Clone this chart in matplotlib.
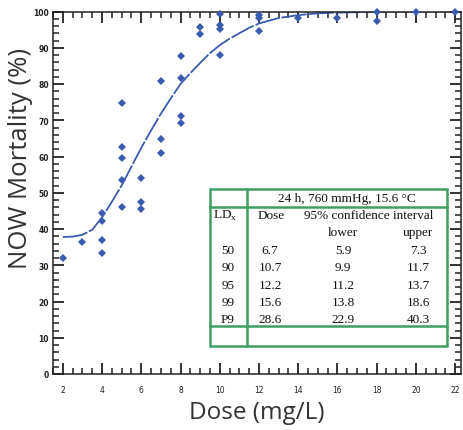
import numpy as np
import matplotlib
matplotlib.use('Agg')
import matplotlib.pyplot as plt
from matplotlib.ticker import MultipleLocator
from matplotlib.patches import Rectangle
from matplotlib.lines import Line2D

# observed mortality per dose
dose = [2, 3, 4, 4, 4, 4, 5, 5, 5, 5, 5, 6, 6, 6, 7, 7, 7,
        8, 8, 8, 8, 9, 9, 10, 10, 10, 10, 12, 12, 12, 14, 16, 18, 18, 20, 22]
mortality = [32, 36.5, 44.4, 42.3, 37, 33.4, 74.8, 62.6, 59.5, 53.6, 46,
             54.2, 47.4, 45.5, 80.7, 64.7, 60.9,
             87.8, 81.6, 71.1, 69.3, 95.8, 93.7, 99.3, 96.2, 95.1, 88,
             99, 98.1, 94.6, 98.3, 98.3, 99.8, 97.5, 100, 100]

# fitted curve
fit_dose = [2, 2.5, 3, 3.5, 4, 4.5, 5, 5.5, 6, 6.5, 7, 7.5, 8, 8.5, 9, 9.5,
            10, 10.5, 11, 11.5, 12, 13, 14, 15, 16, 18, 20, 22]
fit_mort = [37.8, 37.9, 38.4, 39.8, 43.2, 47.5, 52.0, 57.2, 62.4, 67.2, 71.8,
            76.0, 80.0, 83.0, 85.8, 88.5, 90.7, 92.5, 94.0, 95.5, 96.7, 98.2,
            99.0, 99.5, 99.7, 99.9, 100, 100]

# inset table
table_title = "24 h, 760 mmHg, 15.6 °C"
ld_x = ["50", "90", "95", "99", "P9"]
ld_dose = ["6.7", "10.7", "12.2", "15.6", "28.6"]
ci_lower = ["5.9", "9.9", "11.2", "13.8", "22.9"]
ci_upper = ["7.3", "11.7", "13.7", "18.6", "40.3"]

W, H = 463, 431
blue = '#3a5bb0'
green = '#3f9e62'

fig = plt.figure(figsize=(W / 100, H / 100), dpi=100)
ax = fig.add_axes([53 / W, 1 - 375 / H, (461 - 53) / W, (375 - 12.5) / H])

ax.plot(fit_dose, fit_mort, color=blue, lw=1.3, dashes=(14, 1.0))
ax.plot(dose, mortality, 'D', color=blue, markersize=4.2, markeredgewidth=0, clip_on=False, zorder=4)

ax.set_xlim(1.5, 22.3)
ax.set_ylim(0, 100)
ax.xaxis.set_major_locator(MultipleLocator(2))
ax.xaxis.set_minor_locator(MultipleLocator(0.5))
ax.yaxis.set_major_locator(MultipleLocator(10))
ax.yaxis.set_minor_locator(MultipleLocator(2))
ax.tick_params(which='both', direction='in', top=True, right=True, color='#222222')
ax.tick_params(which='major', length=8, width=1.3, labelsize=5.5, pad=8, labelcolor='#222222')
ax.tick_params(which='minor', length=4, width=1.1)
ax.tick_params(axis='y', pad=3)
for lab in ax.get_yticklabels():
    lab.set_fontweight('bold')
for s in ax.spines.values():
    s.set_linewidth(1.1)
    s.set_color('#222222')

fig.text(21 / W, 1 - 158 / H, "NOW Mortality (%)", rotation=90, ha='center', va='center',
         fontsize=18.5, family='Open Sans', color='#333333')
fig.text(257 / W, 1 - 413 / H, "Dose (mg/L)", ha='center', va='center',
         fontsize=17.5, family='Open Sans', color='#333333')

# table drawn in figure pixels
def fx(x):
    return x / W

def fy(y):
    return 1 - y / H

fig.patches.append(Rectangle((fx(210), fy(347)), fx(447) - fx(210), fy(190) - fy(347),
                             transform=fig.transFigure, fill=True, facecolor='white',
                             edgecolor=green, lw=1.8, zorder=5))
for (x0, y0, x1, y1) in [(247, 190, 247, 347), (210, 208, 447, 208), (210, 327, 447, 327)]:
    fig.lines.append(Line2D([fx(x0), fx(x1)], [fy(y0), fy(y1)], transform=fig.transFigure,
                            color=green, lw=1.8, zorder=6))

tkw = dict(family='Liberation Serif', fontsize=9.5, va='center', color='#111111', zorder=7)
fig.text(fx(347), fy(199), table_title, ha='center', **tkw)
fig.text(fx(213), fy(216), "LD$_\\mathregular{x}$", ha='left', **tkw)
fig.text(fx(271), fy(216), "Dose", ha='center', **tkw)
fig.text(fx(369), fy(216), "95% confidence interval", ha='center', **tkw)
fig.text(fx(343), fy(233), "lower", ha='center', **tkw)
fig.text(fx(418), fy(233), "upper", ha='center', **tkw)
for i in range(len(ld_x)):
    yy = fy(251 + i * 17.3)
    fig.text(fx(228), yy, ld_x[i], ha='center', **tkw)
    fig.text(fx(270), yy, ld_dose[i], ha='center', **tkw)
    fig.text(fx(343), yy, ci_lower[i], ha='center', **tkw)
    fig.text(fx(418), yy, ci_upper[i], ha='center', **tkw)

fig.savefig('out.png', dpi=100)
